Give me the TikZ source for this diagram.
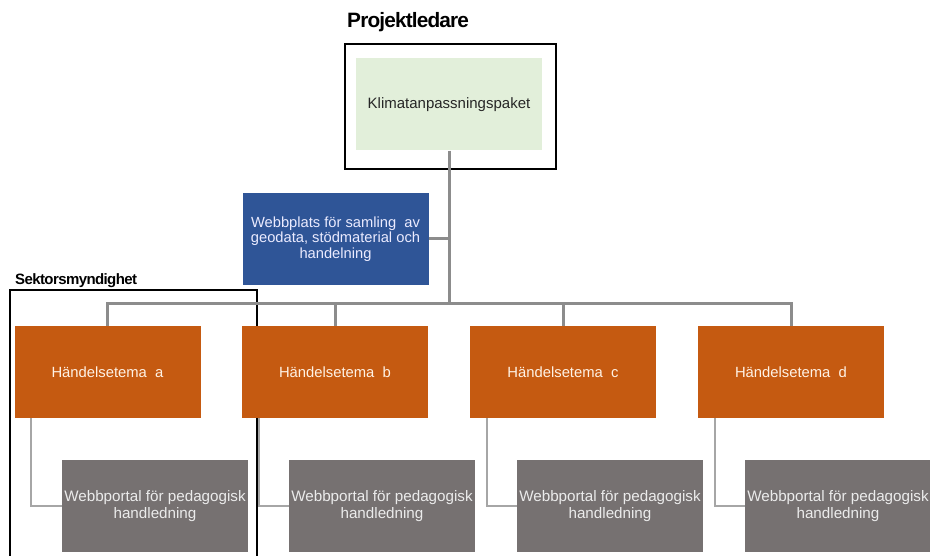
\documentclass[tikz,border=0pt]{standalone}
\usepackage{fontspec}
\setmainfont{Liberation Sans}
\newfontfamily\tightfont[LetterSpace=-4]{Liberation Sans}
\usepackage{tikz}
\definecolor{paketgreen}{HTML}{E2EFDA}
\definecolor{webbblue}{HTML}{2F5597}
\definecolor{temaorange}{HTML}{C55A11}
\definecolor{portalgray}{HTML}{767171}
\definecolor{buslinje}{HTML}{8C8C8C}
\definecolor{sublinje}{HTML}{A6A6A6}
\tikzset{
  box/.style={rectangle,inner sep=0pt,minimum width=186pt,minimum height=92pt,align=center},
  paket/.style={box,fill=paketgreen,text=black!85,font=\fontsize{15}{17}\selectfont},
  webb/.style={box,fill=webbblue,text=blue!8,font=\fontsize{14.7}{15.5}\selectfont},
  tema/.style={box,fill=temaorange,text=orange!10,font=\fontsize{14.8}{17}\selectfont},
  portal/.style={box,fill=portalgray,text=white!92!black,font=\fontsize{15.2}{16.2}\selectfont},
  bus/.style={draw=buslinje,line width=3pt},
  sub/.style={draw=sublinje,line width=2pt},
  ram/.style={draw=black,line width=1.6pt}
}

\begin{document}
\begin{tikzpicture}[x=1pt,y=-1pt]
\useasboundingbox (0,0) rectangle (930,556);
% frames
\draw[ram] (345,44) rectangle (556,169);
\draw[ram] (10,556) |- (257,290) -- (257,556);
\node[anchor=west,inner sep=0pt,font=\tightfont\fontsize{20.8}{22}\bfseries] (projlbl) at (347,22) {Projektledare};
\node[anchor=west,inner sep=0pt,font=\tightfont\fontsize{15}{16}\bfseries] (sektorlbl) at (15,281) {Sektorsmyndighet};
% boxes
\node[paket] (klimat) at (449,104.5) {Klimatanpassningspaket};
\node[webb] (webb) at (335.5,239) {Webbplats för samling\ \ av\\geodata, stödmaterial och\\handelning};
\node[tema] (temaa) at (107.5,372) {Händelsetema\ \ a};
\node[tema] (temab) at (335,372) {Händelsetema\ \ b};
\node[tema] (temac) at (563,372) {Händelsetema\ \ c};
\node[tema] (temad) at (791,372) {Händelsetema\ \ d};
\node[portal] (portala) at (155,506) {Webbportal för pedagogisk\\handledning};
\node[portal] (portalb) at (382,506) {Webbportal för pedagogisk\\handledning};
\node[portal] (portalc) at (610,506) {Webbportal för pedagogisk\\handledning};
\node[portal] (portald) at (838,506) {Webbportal för pedagogisk\\handledning};
% connectors
\coordinate (buspunkt) at (449,304);
\coordinate (webbpunkt) at (449,239);
\draw[bus] (klimat.south) -- (buspunkt);
\draw[bus] (webb.east) -- (webbpunkt);
\draw[bus] (buspunkt) -| (temaa.north);
\draw[bus] (buspunkt) -| (temab.north);
\draw[bus] (buspunkt) -| (temac.north);
\draw[bus] (buspunkt) -| (temad.north);
\draw[sub] ([xshift=17pt]temaa.south west) |- (portala.west);
\draw[sub] ([xshift=17pt]temab.south west) |- (portalb.west);
\draw[sub] ([xshift=17pt]temac.south west) |- (portalc.west);
\draw[sub] ([xshift=17pt]temad.south west) |- (portald.west);
\end{tikzpicture}
\end{document}
